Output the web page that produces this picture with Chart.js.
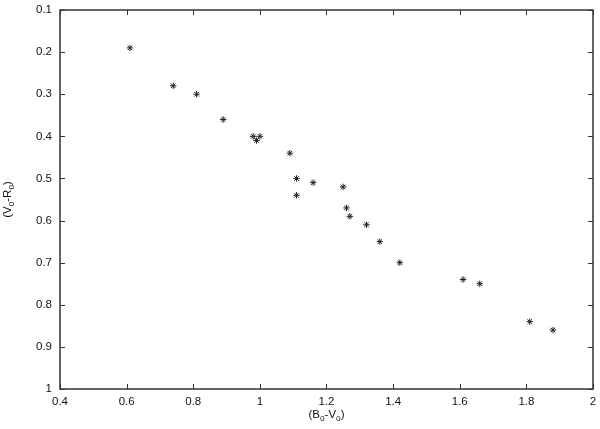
<!DOCTYPE html>
<html>
<head>
<meta charset="utf-8">
<script src="https://cdn.jsdelivr.net/npm/chart.js@4"></script>
<style>
html,body{margin:0;padding:0;background:#fff;}
#wrap{width:600px;height:429px;position:relative;}
</style>
</head>
<body>
<div id="wrap"><canvas id="c" width="600" height="429"></canvas></div>
<script>
// Data
const bvColor = [0.61, 0.74, 0.81, 0.89, 0.98, 1.00, 0.99, 1.09, 1.11, 1.16, 1.11, 1.25, 1.26, 1.27, 1.32, 1.36, 1.42, 1.61, 1.66, 1.81, 1.88];
const vrColor = [0.19, 0.28, 0.30, 0.36, 0.40, 0.40, 0.41, 0.44, 0.50, 0.51, 0.54, 0.52, 0.57, 0.59, 0.61, 0.65, 0.70, 0.74, 0.75, 0.84, 0.86];
const xTicks = [0.4, 0.6, 0.8, 1, 1.2, 1.4, 1.6, 1.8, 2];
const yTicks = [0.1, 0.2, 0.3, 0.4, 0.5, 0.6, 0.7, 0.8, 0.9, 1];
// axis titles: [text, isSubscript]
const xTitleParts = [['(B', false], ['o', true], ['-V', false], ['o', true], [')', false]];
const yTitleParts = [['(V', false], ['o', true], ['-R', false], ['o', true], [')', false]];

const points = bvColor.map((x, i) => ({x: x, y: vrColor[i]}));
const FAM = '"Liberation Sans", Arial, sans-serif';

function drawParts(ctx, parts, cx, cy, size) {
  const subSize = size * 0.72;
  let total = 0;
  parts.forEach(([t, sub]) => {
    ctx.font = (sub ? subSize : size) + 'px ' + FAM;
    total += ctx.measureText(t).width;
  });
  let x = cx - total / 2;
  ctx.textBaseline = 'middle';
  ctx.textAlign = 'left';
  parts.forEach(([t, sub]) => {
    ctx.font = (sub ? subSize : size) + 'px ' + FAM;
    ctx.fillText(t, x, sub ? cy + size * 0.28 : cy);
    x += ctx.measureText(t).width;
  });
}

const frame = {
  id: 'frame',
  afterDatasetsDraw(chart) {
    const ctx = chart.ctx, a = chart.chartArea;
    const xs = chart.scales.x, ys = chart.scales.y;
    ctx.save();
    ctx.strokeStyle = '#333';
    ctx.lineWidth = 1.5;
    ctx.strokeRect(a.left, a.top, a.right - a.left, a.bottom - a.top);
    ctx.lineWidth = 1;
    ctx.beginPath();
    const L = 5;
    xTicks.forEach(v => {
      const px = Math.round(xs.getPixelForValue(v)) + 0.5;
      ctx.moveTo(px, a.bottom); ctx.lineTo(px, a.bottom - L);
      ctx.moveTo(px, a.top); ctx.lineTo(px, a.top + L);
    });
    yTicks.forEach(v => {
      const py = Math.round(ys.getPixelForValue(v)) + 0.5;
      ctx.moveTo(a.left, py); ctx.lineTo(a.left + L, py);
      ctx.moveTo(a.right, py); ctx.lineTo(a.right - L, py);
    });
    ctx.stroke();
    // axis titles
    ctx.fillStyle = '#111';
    drawParts(ctx, xTitleParts, (a.left + a.right) / 2, 415, 11.5);
    ctx.save();
    ctx.translate(8, (a.top + a.bottom) / 2);
    ctx.rotate(-Math.PI / 2);
    drawParts(ctx, yTitleParts, 0, 0, 11.5);
    ctx.restore();
    ctx.restore();
  }
};

const font = {family: FAM, size: 11.5};

new Chart(document.getElementById('c'), {
  type: 'scatter',
  data: {
    datasets: [{
      data: points,
      pointStyle: 'star',
      radius: 3.2,
      borderColor: '#222',
      backgroundColor: '#222',
      borderWidth: 1
    }]
  },
  options: {
    responsive: false,
    animation: false,
    layout: {padding: {top: 10, right: 7, left: 0, bottom: 0}},
    plugins: {legend: {display: false}, tooltip: {enabled: false}},
    scales: {
      x: {
        type: 'linear', min: 0.4, max: 2,
        afterBuildTicks: s => { s.ticks = xTicks.map(v => ({value: v})); },
        afterFit: s => { s.height = 40; s.paddingLeft = 0; s.paddingRight = 0; },
        grid: {display: false, drawTicks: false},
        border: {display: false},
        ticks: {font: font, color: '#111', padding: 6, maxRotation: 0,
                callback: v => String(v)}
      },
      y: {
        type: 'linear', reverse: true, min: 0.1, max: 1,
        afterBuildTicks: s => { s.ticks = yTicks.map(v => ({value: v})); },
        afterFit: s => { s.width = 60; s.paddingTop = 0; s.paddingBottom = 0; },
        grid: {display: false, drawTicks: false},
        border: {display: false},
        ticks: {font: font, color: '#111', padding: 8,
                callback: v => String(v)}
      }
    }
  },
  plugins: [frame]
});
</script>
</body>
</html>
